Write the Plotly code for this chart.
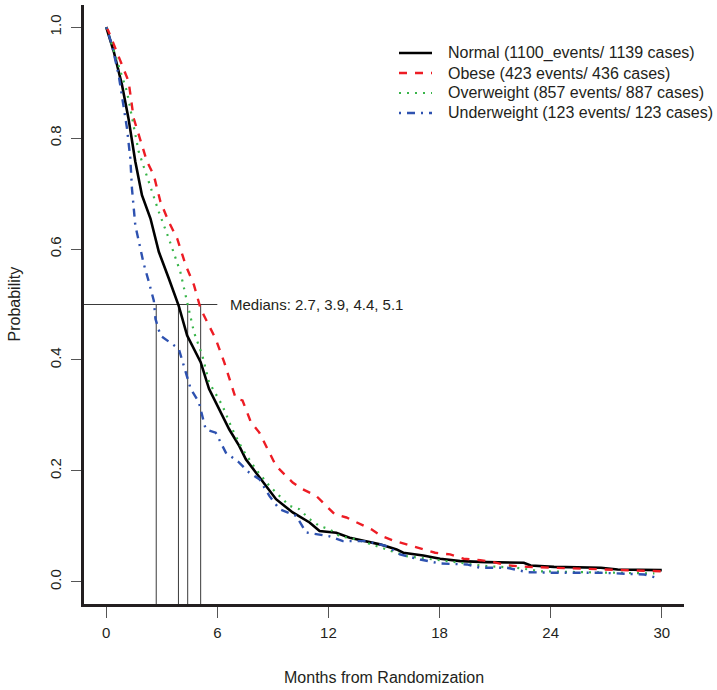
import plotly.graph_objects as go

# ---------------- data ----------------
normal_t = [0, 0.4, 0.85, 1.2, 1.57, 1.93, 2.39, 2.84, 3.38, 3.92, 4.37, 5.1, 5.55, 6.09,
            6.64, 7.18, 7.54, 8.08, 8.63, 9.17, 10.07, 10.98, 11.52, 12.42, 13.15, 14.05,
            14.78, 15.68, 16.04, 17.12, 18.03, 19.12, 20.56, 22.55, 22.92, 24.18, 26.71,
            27.62, 30]
normal_s = [1.0, 0.957, 0.896, 0.836, 0.758, 0.697, 0.655, 0.595, 0.547, 0.497, 0.444,
            0.396, 0.348, 0.312, 0.275, 0.245, 0.221, 0.197, 0.173, 0.149, 0.125, 0.107,
            0.0915, 0.0886, 0.0796, 0.0734, 0.0675, 0.0584, 0.0524, 0.0476, 0.0416, 0.0373,
            0.0355, 0.0344, 0.0295, 0.027, 0.0253, 0.0222, 0.021]

obese_t = [0, 0.12, 0.85, 1.21, 1.48, 1.75, 2.2, 2.57, 2.93, 3.38, 3.83, 4.29, 4.74, 5.1,
           5.55, 5.91, 6.37, 6.64, 7.0, 7.36, 7.81, 8.27, 8.63, 9.17, 10.07, 10.6, 11.34,
           11.88, 12.33, 12.97, 13.69, 14.32, 14.87, 15.59, 16.22, 17.04, 17.76, 18.57,
           19.3, 20.2, 20.92, 21.65, 22.73, 24.18, 25.26, 26.35, 27.25, 27.98, 30]
obese_s = [1.0, 0.993, 0.932, 0.902, 0.836, 0.806, 0.758, 0.733, 0.685, 0.649, 0.619,
           0.571, 0.535, 0.492, 0.462, 0.438, 0.396, 0.366, 0.33, 0.327, 0.288, 0.269,
           0.245, 0.209, 0.179, 0.167, 0.155, 0.137, 0.122, 0.116, 0.104, 0.0946, 0.0825,
           0.0734, 0.0675, 0.0597, 0.0524, 0.0494, 0.0416, 0.039, 0.0355, 0.0295, 0.027,
           0.0253, 0.024, 0.0235, 0.022, 0.0204, 0.019]

over_t = [0, 0.58, 1.12, 1.75, 2.3, 2.84, 3.38, 4.0, 4.4, 4.74, 5.19, 5.55, 6.27, 6.81,
          7.36, 8.08, 8.81, 9.89, 10.43, 10.98, 11.52, 12.06, 12.6, 13.5, 14.05, 14.6,
          15.14, 16.22, 17.67, 19.12, 20.56, 22.19, 23.45, 25.8, 28.5, 29.6]
over_s = [1.0, 0.939, 0.884, 0.776, 0.722, 0.667, 0.619, 0.559, 0.5, 0.45, 0.408, 0.36,
          0.318, 0.275, 0.239, 0.203, 0.173, 0.137, 0.131, 0.113, 0.1005, 0.095, 0.0825,
          0.0765, 0.0705, 0.064, 0.0584, 0.0463, 0.0403, 0.0355, 0.0282, 0.0253, 0.019,
          0.0174, 0.0163, 0.015]

under_t = [0, 0.3, 0.67, 0.85, 1.12, 1.3, 1.39, 1.57, 2.02, 2.3, 2.57, 2.66, 2.93, 3.92,
           4.2, 4.56, 5.0, 5.37, 5.91, 6.46, 7.18, 7.72, 8.27, 8.81, 9.35, 10.25, 10.8,
           12.06, 12.78, 14.05, 15.14, 15.86, 16.95, 18.03, 19.48, 20.2, 21.65, 22.73,
           24.18, 26.71, 29.06, 29.6]
under_s = [1.0, 0.969, 0.914, 0.878, 0.818, 0.764, 0.709, 0.643, 0.574, 0.541, 0.507,
           0.474, 0.444, 0.42, 0.39, 0.348, 0.324, 0.275, 0.269, 0.233, 0.215, 0.197,
           0.185, 0.155, 0.131, 0.119, 0.089, 0.082, 0.0734, 0.0734, 0.0644, 0.0494,
           0.0403, 0.033, 0.0313, 0.0253, 0.0253, 0.0174, 0.0163, 0.0163, 0.0132, 0.0083]

series_names = ["Normal (1100_events/ 1139 cases)",
                "Obese (423 events/ 436 cases)",
                "Overweight (857 events/ 887 cases)",
                "Underweight (123 events/ 123 cases)"]

medians = [2.7, 3.9, 4.4, 5.1]
x_ticks = [0, 6, 12, 18, 24, 30]
y_ticks = [0.0, 0.2, 0.4, 0.6, 0.8, 1.0]

# ---------------- figure ----------------
FONT = "Liberation Sans, Arial, sans-serif"
TXT = "#231f20"
X_RANGE = [-1.2, 31.2]
Y_RANGE = [-0.04, 1.04]

W, H = 717, 690
ML, MR, MT, MB = 84, 33, 5, 86
PW, PH = W - ML - MR, H - MT - MB


def px_x(p):  # pixel -> paper x
    return (p - ML) / PW


def px_y(p):  # pixel -> paper y
    return (H - MB - p) / PH


fig = go.Figure()

styles = [
    dict(color="#000000", width=2.6, dash="solid"),
    dict(color="#ed1c24", width=2.4, dash="8px,8px"),
    dict(color="#39b54a", width=2.2, dash="2px,6px"),
    dict(color="#2e52b0", width=2.4, dash="2px,6px,8px,6px"),
]
data = [(normal_t, normal_s), (obese_t, obese_s), (over_t, over_s), (under_t, under_s)]

for (t, s), name, st in zip(data, series_names, styles):
    fig.add_trace(go.Scatter(x=t, y=s, mode="lines", name=name, line=st,
                             hoverinfo="skip", showlegend=False))

# median guide lines
fig.add_shape(type="line", xref="x", yref="y", x0=X_RANGE[0], x1=6, y0=0.5, y1=0.5,
              line=dict(color="#3a3a3a", width=1), layer="below")
for m in medians:
    fig.add_shape(type="line", xref="x", yref="y", x0=m, x1=m, y0=Y_RANGE[0], y1=0.5,
                  line=dict(color="#3a3a3a", width=1), layer="below")

fig.add_annotation(x=6.55, y=0.5, xref="x", yref="y", xanchor="left", yanchor="middle",
                   text="Medians: " + ", ".join(f"{m:.1f}" for m in medians),
                   showarrow=False, font=dict(family=FONT, size=15, color=TXT))

# legend (R-style key, drawn as line samples + text)
legend_rows = [53, 73, 93, 113]
for row, name, st in zip(legend_rows, series_names, styles):
    fig.add_shape(type="line", xref="paper", yref="paper",
                  x0=px_x(399), x1=px_x(432), y0=px_y(row), y1=px_y(row),
                  line=dict(color=st["color"], width=st["width"], dash=st["dash"]))
    fig.add_annotation(x=px_x(446), y=px_y(row), xref="paper", yref="paper",
                       xanchor="left", yanchor="middle", text=name, showarrow=False,
                       font=dict(family=FONT, size=16, color=TXT))

# axis titles
fig.add_annotation(x=0.5, y=px_y(677), xref="paper", yref="paper", xanchor="center",
                   yanchor="middle", text="Months from Randomization", showarrow=False,
                   font=dict(family=FONT, size=16, color=TXT))
fig.add_annotation(x=px_x(14), y=0.5, xref="paper", yref="paper", xanchor="center",
                   yanchor="middle", text="Probability", textangle=-90, showarrow=False,
                   font=dict(family=FONT, size=16, color=TXT))

fig.update_xaxes(range=X_RANGE, tickvals=x_ticks, ticktext=[str(v) for v in x_ticks],
                 showgrid=False, zeroline=False, showline=True, linewidth=3,
                 linecolor="#231f20", ticks="outside", ticklen=11, tickwidth=1,
                 tickcolor="#555555", ticklabelstandoff=2, automargin=False,
                 tickfont=dict(family=FONT, size=15, color=TXT))
fig.update_yaxes(range=Y_RANGE, tickvals=y_ticks, ticktext=[f"{v:.1f}" for v in y_ticks],
                 showgrid=False, zeroline=False, showline=True, linewidth=3,
                 linecolor="#231f20", ticks="outside", ticklen=10, tickwidth=1,
                 tickcolor="#555555", tickangle=-90, ticklabelstandoff=4, automargin=False,
                 tickfont=dict(family=FONT, size=15, color=TXT))

fig.update_layout(
    width=W, height=H,
    margin=dict(l=ML, r=MR, t=MT, b=MB),
    plot_bgcolor="white", paper_bgcolor="white",
    showlegend=False,
)

fig.write_html("out.html",
               config={"displayModeBar": False},
               post_script="document.body.style.margin='0px';"
                           "document.body.style.overflow='hidden';")
